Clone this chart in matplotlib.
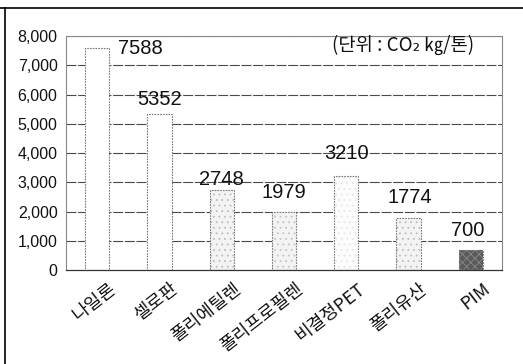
import matplotlib
matplotlib.use('Agg')
import matplotlib.pyplot as plt
from matplotlib.lines import Line2D
from matplotlib.transforms import ScaledTranslation

plt.rcParams['font.family'] = ['Liberation Sans', 'Noto Sans CJK KR', 'DejaVu Sans']
plt.rcParams['hatch.linewidth'] = 0.6

# CO2 emission per ton of packaging material
materials = ['나일론', '셀로판', '폴리에틸렌', '폴리프로필렌', '비결정PET', '폴리유산', 'PIM']
emissions = [7588, 5352, 2748, 1979, 3210, 1774, 700]
y_ticks = [0, 1000, 2000, 3000, 4000, 5000, 6000, 7000, 8000]
unit_text = '(단위 : CO₂ ㎏/톤)'

# bar look (fill, hatch colour, hatch) and value-label offsets in points
fills = ['white', 'white', '#f3f3f3', '#f3f3f3', '#fcfcfc', '#f3f3f3', '#5a5a5a']
hatch_colors = ['#ffffff', '#ffffff', '#bdbdbd', '#c4c4c4', '#e6e6e6', '#bdbdbd', '#8a8a8a']
hatches = ['', '', '...', '...', '...', '...', 'xxxx']
label_dx = [31, 0, 0, 0, 0, 1, -2]
label_dy = [0, 10, 7, 14, 16, 15, 14]

fig = plt.figure(figsize=(5.23, 3.64), dpi=100)
ax = fig.add_axes([0.126, 0.258, 0.834, 0.643])

x = list(range(len(materials)))
ax.set_xlim(-0.5, len(materials) - 0.5)
ax.set_ylim(0, 8000)

for v in y_ticks[1:]:
    ax.axhline(v, color='#4a4a4a', lw=0.8, ls=(0, (9, 1.5)), zorder=1)

for i, v in enumerate(emissions):
    ax.bar(i, v, width=0.39, color=fills[i], edgecolor=hatch_colors[i],
           hatch=hatches[i], lw=0, zorder=2)
    ax.bar(i, v, width=0.39, fill=False, edgecolor='#7a7a7a', lw=0.8,
           ls=(0, (1.5, 1)), zorder=3)
    ax.annotate(str(v), (i, v), xytext=(label_dx[i], label_dy[i]),
                textcoords='offset points', ha='center', va='center',
                fontsize=14.5, color='#111111', zorder=4)

ax.set_yticks(y_ticks)
ax.set_yticklabels([f'{v:,}' for v in y_ticks], fontsize=11.5, color='#111111')
ax.tick_params(axis='y', length=0, pad=6)
ax.tick_params(axis='x', length=0, pad=7)

ax.set_xticks(x)
ax.set_xticklabels(materials, rotation=38, ha='right', rotation_mode='anchor',
                   fontsize=13, color='#111111',
                   family=['Noto Sans CJK KR', 'DejaVu Sans'])
shift = ScaledTranslation(8 / 72, 0, fig.dpi_scale_trans)
for lbl in ax.get_xticklabels():
    lbl.set_transform(lbl.get_transform() + shift)

for side in ['top', 'right', 'left']:
    ax.spines[side].set_color('#888888')
    ax.spines[side].set_linestyle((0, (2, 1)))
    ax.spines[side].set_linewidth(0.8)
ax.spines['bottom'].set_color('#333333')
ax.spines['bottom'].set_linewidth(0.9)

ax.text(0.935, 7680, unit_text, transform=ax.get_yaxis_transform(which='grid'),
        ha='right', va='center', fontsize=13.5, color='#111111',
        family=['Noto Sans CJK KR', 'DejaVu Sans'], zorder=4)

# page frame lines along the top and left edge
fig.add_artist(Line2D([0, 1], [0.978, 0.978], color='black', lw=1.2))
fig.add_artist(Line2D([0.01, 0.01], [0, 0.978], color='black', lw=1.2))

fig.savefig('out.png', dpi=100, facecolor='white')
